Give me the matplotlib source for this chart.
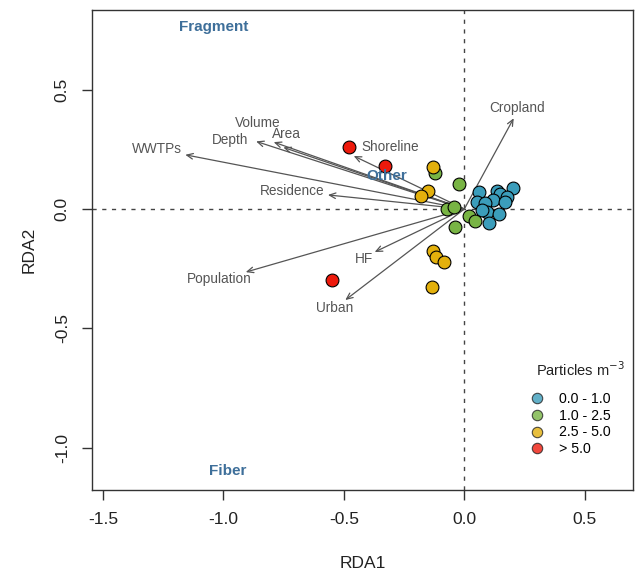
import matplotlib
matplotlib.use("Agg")
import matplotlib.pyplot as plt
import numpy as np

plt.rcParams['font.family'] = ['Liberation Sans', 'DejaVu Sans']

# ---- data: site scores by concentration class ----
blue_x = [0.059, 0.136, 0.202, 0.149, 0.177, 0.053, 0.117, 0.167, 0.087, 0.094, 0.142, 0.101, 0.073]
blue_y = [0.070, 0.077, 0.087, 0.063, 0.049, 0.031, 0.038, 0.031, 0.024, -0.011, -0.022, -0.060, -0.004]
green_x = [-0.123, -0.021, -0.072, -0.044, 0.018, 0.046, -0.037]
green_y = [0.149, 0.105, -0.001, 0.010, -0.029, -0.049, -0.077]
yellow_x = [-0.132, -0.151, -0.181, -0.130, -0.116, -0.086, -0.134]
yellow_y = [0.177, 0.077, 0.056, -0.174, -0.202, -0.222, -0.325]
red_x = [-0.477, -0.328, -0.549]
red_y = [0.258, 0.180, -0.298]

classes = ["0.0 - 1.0", "1.0 - 2.5", "2.5 - 5.0", "> 5.0"]
class_colors = ["#3B9DBB", "#78B444", "#E3B00C", "#EE1A0C"]
legend_title = "Particles m$^{-3}$"

# ---- environmental vectors ----
env_names = ["Cropland", "Shoreline", "Volume", "Area", "Depth", "WWTPs",
             "Residence", "Population", "HF", "Urban"]
env_x = [0.205, -0.459, -0.751, -0.791, -0.864, -1.158, -0.566, -0.907, -0.372, -0.494]
env_y = [0.380, 0.222, 0.258, 0.280, 0.283, 0.227, 0.059, -0.264, -0.180, -0.381]
lab_x = [0.220, -0.307, -0.858, -0.740, -0.971, -1.275, -0.715, -1.015, -0.418, -0.538]
lab_y = [0.423, 0.259, 0.361, 0.314, 0.289, 0.251, 0.077, -0.292, -0.208, -0.415]

# ---- particle type scores ----
type_names = ["Fragment", "Other", "Fiber"]
type_x = [-1.041, -0.320, -0.983]
type_y = [0.762, 0.138, -1.096]

fig = plt.figure(figsize=(6.35, 5.72), dpi=100)
ax = fig.add_axes([92/635, 1-490/572, (633-92)/635, (490-10)/572])
ax.set_xlim(-1.545, 0.70)
ax.set_ylim(-1.176, 0.833)

ax.axhline(0, color="#444444", lw=1.0, ls=(0, (3, 4)), zorder=1)
ax.axvline(0, color="#444444", lw=1.0, ls=(0, (3, 4)), zorder=1)

for ex, ey in zip(env_x, env_y):
    ax.annotate("", xy=(ex, ey), xytext=(0, 0),
                arrowprops=dict(arrowstyle="->,head_length=0.45,head_width=0.2",
                                color="#555555", lw=0.9, shrinkA=0, shrinkB=0),
                zorder=2)
for name, lx, ly in zip(env_names, lab_x, lab_y):
    ax.text(lx, ly, name, fontsize=9.8, color="#555555", ha="center", va="center", zorder=3)

for xs, ys, c in zip([blue_x, green_x, yellow_x, red_x],
                     [blue_y, green_y, yellow_y, red_y], class_colors):
    ax.scatter(xs, ys, s=85, c=c, edgecolors="black", linewidths=0.8, zorder=4)

for name, tx, ty in zip(type_names, type_x, type_y):
    ax.text(tx, ty, name, fontsize=11, fontweight="bold", color="#3E6F9A",
            ha="center", va="center", zorder=5)

handles = [plt.Line2D([], [], marker="o", ls="", markersize=7.5, markerfacecolor=c,
                      markeredgecolor="#222222", markeredgewidth=0.8, alpha=0.8)
           for c in class_colors]
leg = ax.legend(handles, classes, loc="lower right", frameon=False, fontsize=10.2,
                handletextpad=0.55, labelspacing=0.2, borderaxespad=0.0,
                bbox_to_anchor=(616/635, 110/572), bbox_transform=fig.transFigure)
fig.text(625/635, 1-370/572, legend_title, fontsize=10.5, color="#222222",
         ha="right", va="center")

ax.set_xticks([-1.5, -1.0, -0.5, 0.0, 0.5])
ax.set_xticklabels(["-1.5", "-1.0", "-0.5", "0.0", "0.5"])
ax.set_yticks([-1.0, -0.5, 0.0, 0.5])
ax.set_yticklabels(["-1.0", "-0.5", "0.0", "0.5"], rotation=90, va="center")
ax.tick_params(direction="out", length=7, width=1, colors="#333333", labelsize=12.5,
               labelcolor="#222222", pad=9)
for s in ax.spines.values():
    s.set_color("#333333")
    s.set_linewidth(1)
ax.set_xlabel("RDA1", fontsize=12.5, color="#222222", labelpad=21)
ax.set_ylabel("RDA2", fontsize=12.5, color="#222222", labelpad=13)

fig.savefig("out.png", dpi=100)
